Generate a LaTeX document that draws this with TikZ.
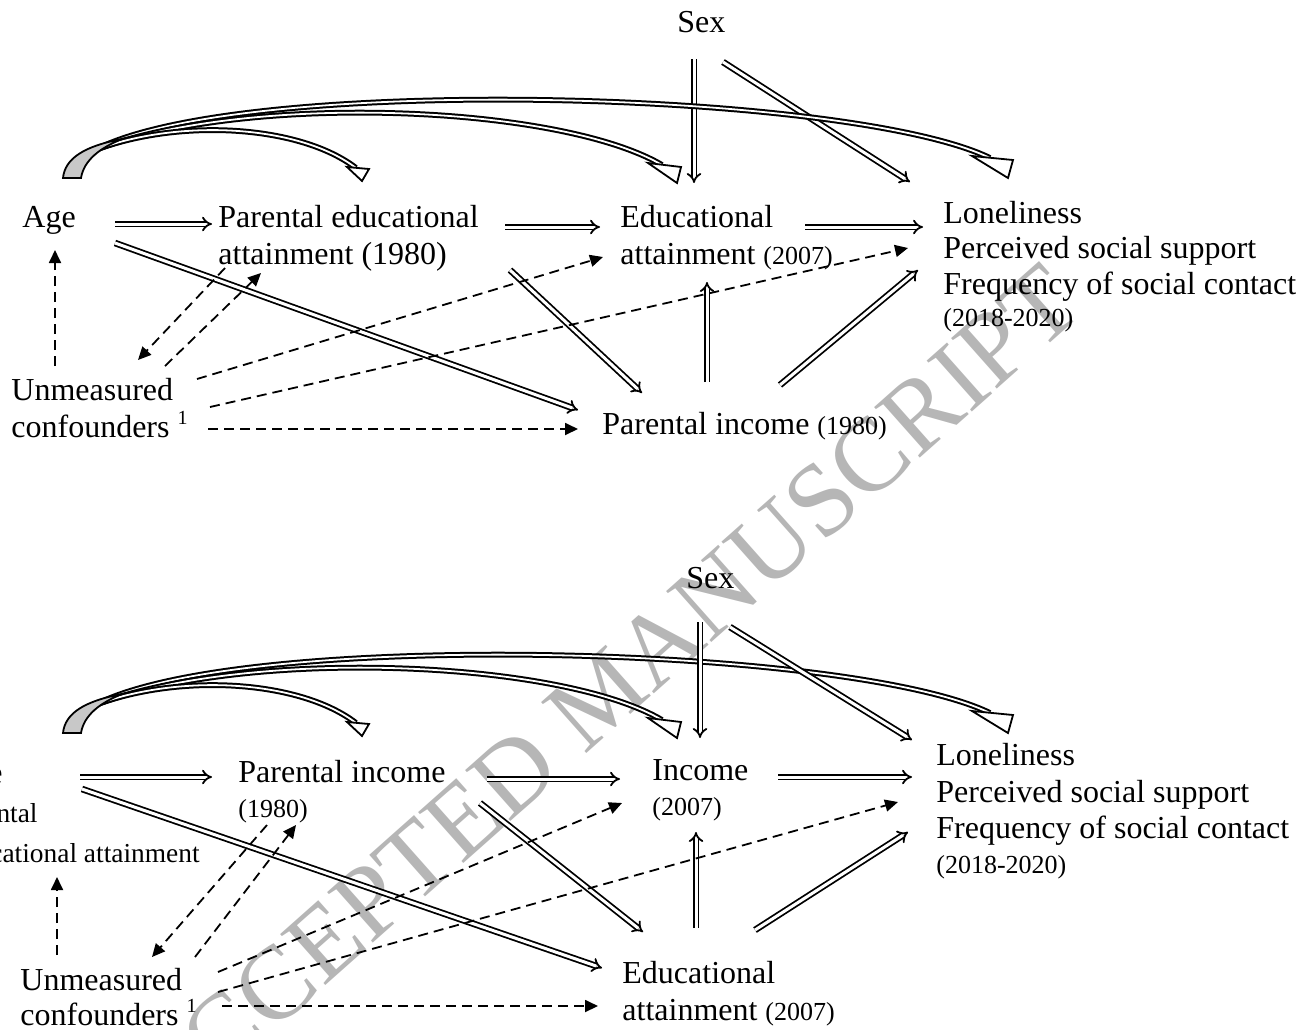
\documentclass[tikz,border=0pt]{standalone}
\usepackage{fontspec}
\setmainfont{Liberation Serif}
\usetikzlibrary{arrows.meta}
\definecolor{wm}{RGB}{182,182,182}
\definecolor{ribgray}{RGB}{200,200,200}
\newcommand{\sm}[1]{{\fontsize{13pt}{15pt}\selectfont #1}}
\newcommand{\supone}{\raisebox{6.5pt}{\fontsize{10pt}{10pt}\selectfont 1}}
\tikzset{
  txt/.style={inner sep=0pt, anchor=base west, font=\fontsize{16pt}{19pt}\selectfont},
  txts/.style={inner sep=0pt, anchor=base west, font=\fontsize{13pt}{15pt}\selectfont},
  txtr/.style={inner sep=0pt, anchor=base east, font=\fontsize{13.7pt}{15pt}\selectfont},
  txtrl/.style={inner sep=0pt, anchor=base east, font=\fontsize{16pt}{19pt}\selectfont},
  dbl/.style={draw, line width=0.9pt, double=white, double distance=1.5pt, -{Implies}},
  dsh/.style={draw, line width=0.9pt, dash pattern=on 5pt off 3pt, -{Triangle[length=6.5pt,width=6pt]}},
  ribbon/.style={draw, line width=1pt, double=white, double distance=0.9pt},
  rhead/.style={draw, line width=0.9pt, fill=white, line join=miter},
  crescent/.style={draw, line width=0.9pt, fill=ribgray},
}
\begin{document}
\begin{tikzpicture}[x=0.5pt,y=-0.5pt]
\useasboundingbox (0,0) rectangle (1316,1029);
\clip (0,0) rectangle (1316,1029);

% watermark
\node[rotate=41.6, text=wm, font=\fontsize{52pt}{52pt}\selectfont, inner sep=0pt] (wmk) at (602,695) {ACCEPTED MANUSCRIPT};

% ================= TOP DIAGRAM =================
\node[txt] (sexT) at (677,32) {Sex};
\node[txt] (ageT) at (22,227) {Age};
\node[txt] (pedTa) at (218,227) {Parental educational};
\node[txt] (pedTb) at (218,264) {attainment (1980)};
\node[txt] (eduTa) at (620,227) {Educational};
\node[txt] (eduTb) at (620,264) {attainment \sm{(2007)}};
\node[txt] (lonTa) at (943,223) {Loneliness};
\node[txt] (lonTb) at (943,258) {Perceived social support};
\node[txt] (lonTc) at (943,294) {Frequency of social contact};
\node[txts] (lonTd) at (943,326) {(2018-2020)};
\node[txt] (unmTa) at (11,400) {Unmeasured};
\node[txt] (unmTb) at (11,437) {confounders \supone};
\node[txt] (pinT) at (602,434) {Parental income \sm{(1980)}};

% connector end points (top)
\coordinate (tAgeR1) at (115,224);  \coordinate (tPedL) at (212,224);
\coordinate (tPedR) at (505,227);   \coordinate (tEduL) at (600,227);
\coordinate (tEduR) at (805,227);   \coordinate (tLonL) at (923,227);
\coordinate (tAgeR2) at (115,243);  \coordinate (tPinL) at (578,410);
\coordinate (tPedB) at (510,270);   \coordinate (tPinT1) at (642,393);
\coordinate (tPinT2) at (707,382);  \coordinate (tEduB) at (707,282);
\coordinate (tPinT3) at (780,385);  \coordinate (tLonB) at (918,270);
\coordinate (tSexB1) at (694,59);   \coordinate (tEduT) at (694,183);
\coordinate (tSexB2) at (723,62);   \coordinate (tLonT) at (910,182);
\coordinate (tUnmT1) at (55,366);   \coordinate (tAgeB) at (55,250);
\coordinate (tPedBL) at (225,268);  \coordinate (tUnmT2) at (138,360);
\coordinate (tUnmT3) at (165,366);  \coordinate (tPedB2) at (261,273);
\coordinate (tUnmR1) at (197,379);  \coordinate (tEduL2) at (603,257);
\coordinate (tUnmR2) at (210,407);  \coordinate (tLonL2) at (908,248);
\coordinate (tUnmR3) at (208,429);  \coordinate (tPinL2) at (578,429);

\draw[dbl] (tAgeR1) -- (tPedL);
\draw[dbl] (tPedR) -- (tEduL);
\draw[dbl] (tEduR) -- (tLonL);
\draw[dbl] (tAgeR2) -- (tPinL);
\draw[dbl] (tPedB) -- (tPinT1);
\draw[dbl] (tPinT2) -- (tEduB);
\draw[dbl] (tPinT3) -- (tLonB);
\draw[dbl] (tSexB1) -- (tEduT);
\draw[dbl] (tSexB2) -- (tLonT);

\draw[dsh] (tUnmT1) -- (tAgeB);
\draw[dsh] (tPedBL) -- (tUnmT2);
\draw[dsh] (tUnmT3) -- (tPedB2);
\draw[dsh] (tUnmR1) -- (tEduL2);
\draw[dsh] (tUnmR2) -- (tLonL2);
\draw[dsh] (tUnmR3) -- (tPinL2);

% curved ribbons from Age (top and bottom, bottom shifted)
\foreach \dy/\p in {0/t, 555/b} {
\begin{scope}[shift={(0,\dy)}]
  \coordinate (\p Rs) at (95,150);
  \coordinate (\p RA) at (356,168);
  \coordinate (\p RB) at (662,165);
  \coordinate (\p RC) at (990,158);
  \draw[ribbon] (\p Rs) .. controls (240,74) and (850,90) .. (\p RC);
  \draw[ribbon] (\p Rs) .. controls (250,92) and (560,105) .. (\p RB);
  \draw[ribbon] (\p Rs) .. controls (180,118) and (300,125) .. (\p RA);
  \draw[rhead] (972,156) -- (1013,160) -- (1008,178) -- cycle;
  \draw[rhead] (648,163) -- (681,167) -- (677,183) -- cycle;
  \draw[rhead] (347,167) -- (369,169) -- (362,181) -- cycle;
  \draw[crescent] (63,178) .. controls (65,158) and (85,146) .. (122,139)
     .. controls (100,148) and (84,160) .. (81,178) -- cycle;
\end{scope}
}

% ================= BOTTOM DIAGRAM =================
\node[txt] (sexB) at (686,588) {Sex};
\node[txtrl] (ageB) at (3,783) {Age};
\node[txtr] (pedBa) at (38,822) {Parental};
\node[txtr] (pedBb) at (200,862) {educational attainment};
\node[txt] (pinBa) at (238,782) {Parental income};
\node[txts] (pinBb) at (238,817) {(1980)};
\node[txt] (incBa) at (652,780) {Income};
\node[txts] (incBb) at (652,815) {(2007)};
\node[txt] (lonBa) at (936,765) {Loneliness};
\node[txt] (lonBb) at (936,802) {Perceived social support};
\node[txt] (lonBc) at (936,838) {Frequency of social contact};
\node[txts] (lonBd) at (936,873) {(2018-2020)};
\node[txt] (eduBa) at (622,983) {Educational};
\node[txt] (eduBb) at (622,1020) {attainment \sm{(2007)}};
\node[txt] (unmBa) at (20,990) {Unmeasured};
\node[txt] (unmBb) at (20,1025) {confounders \supone};

\coordinate (bAgeR1) at (80,777);   \coordinate (bPinL) at (212,777);
\coordinate (bPinR) at (487,779);   \coordinate (bIncL) at (620,779);
\coordinate (bIncR) at (778,777);   \coordinate (bLonL) at (912,777);
\coordinate (bAgeR2) at (82,789);   \coordinate (bEduL) at (602,968);
\coordinate (bPinB) at (480,803);   \coordinate (bEduT1) at (643,932);
\coordinate (bEduT2) at (696,928);  \coordinate (bIncB) at (696,832);
\coordinate (bEduT3) at (755,930);  \coordinate (bLonB) at (908,832);
\coordinate (bSexB1) at (700,622);  \coordinate (bIncT) at (700,738);
\coordinate (bSexB2) at (730,627);  \coordinate (bLonT) at (912,740);
\coordinate (bUnmT1) at (57,955);   \coordinate (bAgeB) at (57,877);
\coordinate (bPinBL) at (267,825);  \coordinate (bUnmT2) at (152,957);
\coordinate (bUnmT3) at (195,957);  \coordinate (bPinB2) at (296,825);
\coordinate (bUnmR1) at (218,972);  \coordinate (bIncL2) at (622,803);
\coordinate (bUnmR2) at (218,992);  \coordinate (bLonL2) at (898,802);
\coordinate (bUnmR3) at (222,1006); \coordinate (bEduL2) at (598,1006);

\draw[dbl] (bAgeR1) -- (bPinL);
\draw[dbl] (bPinR) -- (bIncL);
\draw[dbl] (bIncR) -- (bLonL);
\draw[dbl] (bAgeR2) -- (bEduL);
\draw[dbl] (bPinB) -- (bEduT1);
\draw[dbl] (bEduT2) -- (bIncB);
\draw[dbl] (bEduT3) -- (bLonB);
\draw[dbl] (bSexB1) -- (bIncT);
\draw[dbl] (bSexB2) -- (bLonT);

\draw[dsh] (bUnmT1) -- (bAgeB);
\draw[dsh] (bPinBL) -- (bUnmT2);
\draw[dsh] (bUnmT3) -- (bPinB2);
\draw[dsh] (bUnmR1) -- (bIncL2);
\draw[dsh] (bUnmR2) -- (bLonL2);
\draw[dsh] (bUnmR3) -- (bEduL2);
\end{tikzpicture}
\end{document}
